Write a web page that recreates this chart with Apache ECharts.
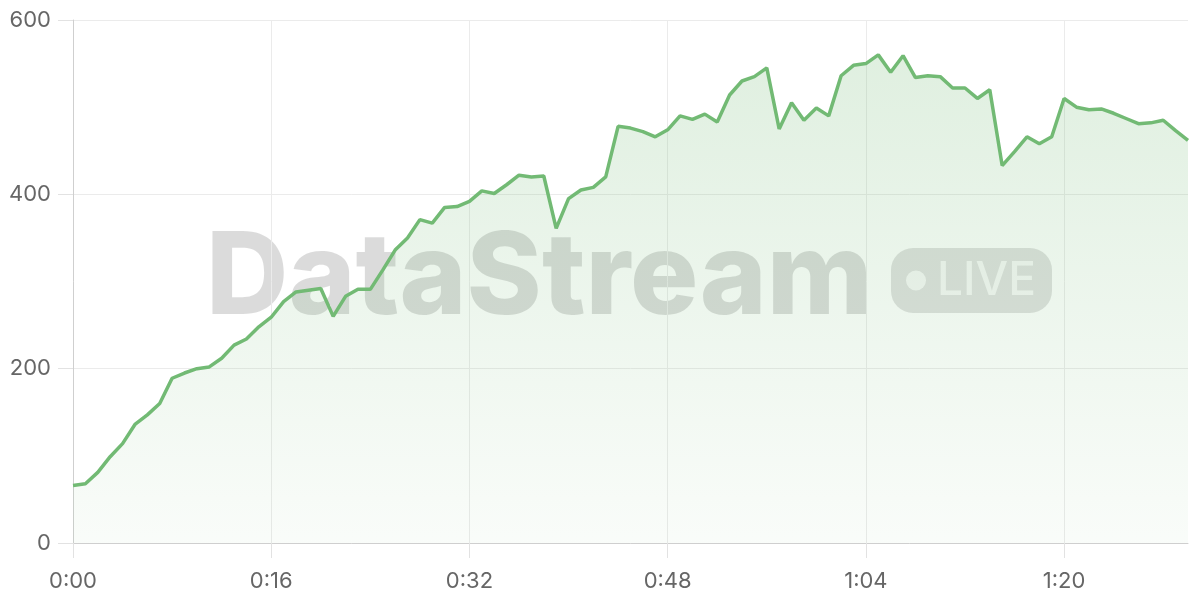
<!DOCTYPE html>
<html>
<head>
<meta charset="utf-8">
<script src="https://cdn.jsdelivr.net/npm/echarts@6/dist/echarts.min.js"></script>
<style>
html,body{margin:0;padding:0;background:#fff;}
#chart{width:1200px;height:600px;}
</style>
</head>
<body>
<div id="chart"></div>
<script>
// Elapsed seconds (0..90) shown as m:ss
const seconds = [0,1,2,3,4,5,6,7,8,9,10,11,12,13,14,15,16,17,18,19,20,21,22,23,24,25,26,27,28,29,30,31,32,33,34,35,36,37,38,39,40,41,42,43,44,45,46,47,48,49,50,51,52,53,54,55,56,57,58,59,60,61,62,63,64,65,66,67,68,69,70,71,72,73,74,75,76,77,78,79,80,81,82,83,84,85,86,87,88,89,90];
const values = [66,68,81,99,114,136,147,160,189,195,200,202,212,227,234,248,259,277,288,290,292,260,283,291,291,313,336,350,371,367,385,386,392,404,401,411,422,420,421,361,395,405,408,420,478,476,472,466,474,490,486,492,483,514,530,535,545,475,505,485,499,490,536,548,550,560,540,559,534,536,535,522,522,510,520,433,449,466,458,466,510,500,497,498,493,487,481,482,485,473,462];
const yTicks = [0,200,400,600];
const watermarkText = 'DataStream';
const badgeText = 'LIVE';

function fmt(s){ const m = Math.floor(s/60), r = s%60; return m + ':' + (r<10?'0':'') + r; }
const categories = seconds.map(fmt);

const chart = echarts.init(document.getElementById('chart'));
const FONT = 'Inter, "Noto Sans", sans-serif';
chart.setOption({
  animation: false,
  backgroundColor: '#ffffff',
  grid: { left: 73, right: 12, top: 20, bottom: 57 },
  xAxis: {
    type: 'category',
    boundaryGap: false,
    data: categories,
    axisLine: { show: true, lineStyle: { color: '#cfcfcf', width: 1 } },
    axisTick: { show: true, interval: 15, length: 15, lineStyle: { color: '#e2e2e2' } },
    splitLine: { show: true, interval: 15, lineStyle: { color: '#ebebeb' } },
    axisLabel: { interval: 15, margin: 27, color: '#666', fontSize: 22, fontFamily: FONT }
  },
  yAxis: {
    type: 'value',
    min: yTicks[0],
    max: yTicks[yTicks.length-1],
    interval: yTicks[1]-yTicks[0],
    axisLine: { show: true, lineStyle: { color: '#cfcfcf', width: 1 } },
    axisTick: { show: true, length: 15, lineStyle: { color: '#e2e2e2' } },
    splitLine: { show: true, lineStyle: { color: '#ebebeb' } },
    axisLabel: { margin: 22, color: '#666', fontSize: 22, fontFamily: FONT }
  },
  graphic: [
    { type: 'text', z: 0, silent: true,
      style: { x: 206, y: 280, text: watermarkText, fill: 'rgba(0,0,0,0.14)',
               font: '800 114px Inter, "Noto Sans", sans-serif', textAlign: 'left', textVerticalAlign: 'middle' } },
    { type: 'rect', z: 0, silent: true,
      shape: { x: 891, y: 248, width: 161, height: 65, r: 22 },
      style: { fill: 'rgba(0,0,0,0.12)' } },
    { type: 'circle', z: 0, silent: true,
      shape: { cx: 916, cy: 280.5, r: 10 },
      style: { fill: 'rgba(255,255,255,0.75)' } },
    { type: 'text', z: 0, silent: true,
      style: { x: 937, y: 281, text: badgeText, fill: 'rgba(255,255,255,0.75)',
               font: '500 46px Inter, "Noto Sans", sans-serif', textAlign: 'left', textVerticalAlign: 'middle' } }
  ],
  series: [{
    type: 'line',
    data: values,
    symbol: 'none',
    smooth: false,
    z: 2,
    lineStyle: { color: '#72ba74', width: 3.5 },
    itemStyle: { color: '#72ba74' },
    areaStyle: {
      color: new echarts.graphic.LinearGradient(0,0,0,1,[
        { offset: 0, color: 'rgba(116,186,118,0.32)' },
        { offset: 1, color: 'rgba(116,186,118,0.06)' }
      ])
    }
  }]
});
</script>
</body>
</html>
